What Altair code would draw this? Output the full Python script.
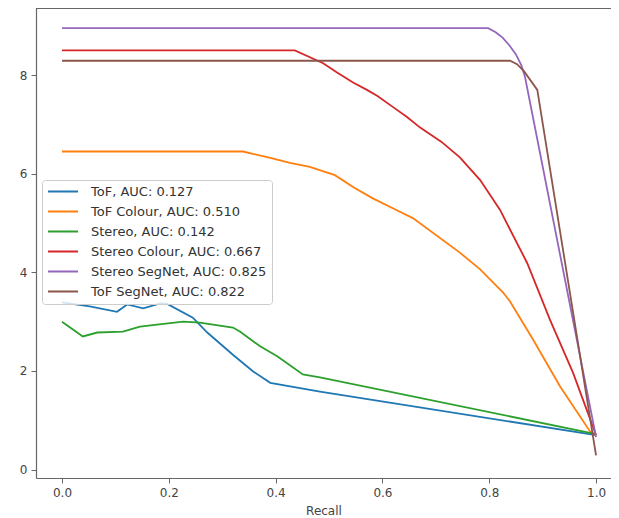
import altair as alt
import pandas as pd

names = ["ToF, AUC: 0.127", "ToF Colour, AUC: 0.510", "Stereo, AUC: 0.142",
         "Stereo Colour, AUC: 0.667", "Stereo SegNet, AUC: 0.825", "ToF SegNet, AUC: 0.822"]
colors = ["#1f77b4", "#ff7f0e", "#2ca02c", "#d62728", "#9467bd", "#8c564b"]

tof_x = [0, 0.052, 0.103, 0.122, 0.152, 0.184, 0.197, 0.245, 0.272, 0.32, 0.358, 0.39, 0.483, 1.0]
tof_y = [3.39, 3.31, 3.2, 3.35, 3.27, 3.37, 3.36, 3.08, 2.78, 2.33, 1.99, 1.76, 1.58, 0.7]

tofc_x = [0, 0.339, 0.39, 0.427, 0.464, 0.511, 0.545, 0.582, 0.627, 0.657, 0.745, 0.783, 0.826, 0.839, 0.882, 0.933, 0.989, 1.0]
tofc_y = [6.45, 6.45, 6.32, 6.22, 6.14, 5.97, 5.73, 5.5, 5.26, 5.1, 4.4, 4.06, 3.59, 3.41, 2.64, 1.68, 0.77, 0.7]

st_x = [0, 0.039, 0.066, 0.114, 0.146, 0.178, 0.227, 0.258, 0.32, 0.333, 0.371, 0.403, 0.451, 0.483, 1.0]
st_y = [3.0, 2.7, 2.78, 2.8, 2.9, 2.94, 3.0, 2.98, 2.88, 2.8, 2.5, 2.3, 1.93, 1.87, 0.72]

stc_x = [0, 0.436, 0.489, 0.515, 0.545, 0.571, 0.59, 0.62, 0.646, 0.67, 0.71, 0.745, 0.783, 0.82, 0.871, 0.914, 0.957, 1.0]
stc_y = [8.5, 8.5, 8.24, 8.05, 7.85, 7.7, 7.58, 7.35, 7.15, 6.94, 6.65, 6.33, 5.87, 5.27, 4.19, 3.03, 1.96, 0.7]

sts_x = [0, 0.798, 0.812, 0.825, 0.838, 0.85, 0.86, 0.867, 1.0]
sts_y = [8.95, 8.95, 8.87, 8.76, 8.6, 8.42, 8.2, 7.96, 0.66]

tofs_x = [0, 0.839, 0.852, 0.865, 0.89, 1.0]
tofs_y = [8.29, 8.29, 8.22, 8.08, 7.7, 0.29]

xticks = [0.0, 0.2, 0.4, 0.6, 0.8, 1.0]
yticks = [0, 2, 4, 6, 8]

series = [(tof_x, tof_y), (tofc_x, tofc_y), (st_x, st_y), (stc_x, stc_y), (sts_x, sts_y), (tofs_x, tofs_y)]
rows = []
for i, (xs, ys) in enumerate(series):
    for j, (x, y) in enumerate(zip(xs, ys)):
        rows.append({"series": names[i], "order": i, "idx": j, "recall": x, "value": y})
df = pd.DataFrame(rows)

W, H = 575, 470
axis_color = "#666666"
label_color = "#444444"

lines = alt.Chart(df).mark_line(strokeWidth=1.8, clip=True).encode(
    x=alt.X("recall:Q", title="Recall",
            scale=alt.Scale(domain=[-0.0487, 1.028], nice=False, zero=False),
            axis=alt.Axis(values=xticks, format=".1f", grid=False, tickSize=5, labelPadding=4,
                          labelFontSize=12, titleFontSize=12, titleFontWeight="normal",
                          titlePadding=7, domainColor=axis_color, tickColor=axis_color,
                          labelColor=label_color, titleColor=label_color, labelFont="DejaVu Sans",
                          titleFont="DejaVu Sans", domainWidth=1.2)),
    y=alt.Y("value:Q", title=None,
            scale=alt.Scale(domain=[-0.17, 9.36], nice=False, zero=False),
            axis=alt.Axis(values=yticks, format="d", grid=False, tickSize=5, labelPadding=4,
                          labelFontSize=12, domainColor=axis_color, tickColor=axis_color,
                          labelColor=label_color, labelFont="DejaVu Sans", domainWidth=1.2)),
    color=alt.Color("series:N",
                    scale=alt.Scale(domain=names, range=colors),
                    sort=names,
                    legend=alt.Legend(orient="none", legendX=6, legendY=172, title=None,
                                      symbolType="stroke", symbolStrokeWidth=2, symbolSize=900,
                                      labelFontSize=13, labelFont="DejaVu Sans", labelColor="#333333",
                                      fillColor="rgba(255,255,255,0.8)", strokeColor="#cccccc",
                                      cornerRadius=3, padding=5, rowPadding=6, clipHeight=13,
                                      labelOffset=12, labelLimit=400)),
    detail="order:O",
    order="idx:Q",
)

top_spine = alt.Chart(df).mark_rule(color=axis_color, strokeWidth=1.2).encode(
    x=alt.value(0), x2=alt.value(W), y=alt.value(0)
)

chart = alt.layer(top_spine, lines).properties(
    width=W, height=H,
    autosize=alt.AutoSizeParams(type="none"),
    padding={"left": 28, "top": 0, "right": 0, "bottom": 40},
).configure_view(stroke=None)

chart.save("out.html", embed_options={"renderer": "svg", "actions": False})
